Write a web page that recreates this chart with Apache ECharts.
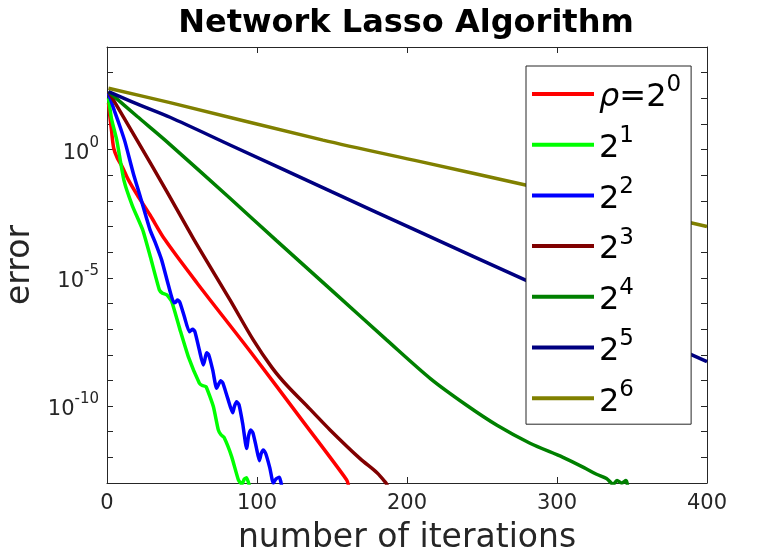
<!DOCTYPE html>
<html lang="en">
<head>
    <meta charset="UTF-8">
    <title>Network Lasso Algorithm</title>
    <script src="https://cdn.jsdelivr.net/npm/echarts@6/dist/echarts.min.js"></script>
    <style>
        body { margin: 0; background: #fff; }
    </style>
</head>
<body>
    <div id="main" style="width: 781px;height:559px;"></div>

    <script type="text/javascript">
        // [iteration, log10(error)]
        const rho0 = [[1,1.82],[2,1.25],[3,0.75],[4.5,0.05],[7,-0.35],[10,-0.65],[14,-1.15],[20,-1.75],[28.7,-2.55],[38.7,-3.52],[60,-5.2],[96.4,-7.94],[130,-10.55],[159.8,-12.88],[161,-13.1]];
        const rho1 = [[1,2.0],[3,1.2],[6.5,0.37],[11.3,-1.2],[17,-2.2],[23.8,-3.13],[29,-4.2],[34.9,-5.47],[37,-5.6],[39.8,-5.66],[43.1,-5.92],[48.7,-7.03],[54.2,-8.07],[61.6,-9.11],[63.5,-9.2],[66,-9.24],[70.9,-10.02],[74.2,-10.93],[76,-11.12],[78,-11.22],[83.1,-11.97],[87.6,-12.88],[89.9,-13.05],[91.5,-12.85],[93.1,-12.8],[94.9,-13.1]];
        const rho2 = [[1,2.2],[5,1.5],[8.7,0.89],[12,0.3],[17.5,-0.92],[22,-1.8],[28.7,-3.13],[32,-3.6],[36.4,-4.3],[41,-5.3],[44.7,-5.97],[45.8,-5.95],[46.9,-5.86],[48.5,-5.95],[51.5,-6.5],[54.9,-7.1],[56,-7.05],[57.1,-7.01],[58.6,-7.1],[61.5,-7.8],[64.2,-8.4],[65.2,-8.2],[66.4,-7.92],[67.8,-8.0],[70.5,-8.6],[73.1,-9.31],[74.4,-9.15],[75.8,-9.01],[77.2,-9.1],[80.5,-9.7],[83.8,-10.26],[85,-10.0],[86.4,-9.83],[88,-9.95],[90.5,-10.7],[93.1,-11.65],[94.4,-11.15],[95.8,-10.93],[97.3,-11.05],[99.5,-11.6],[101.6,-12.13],[102.8,-11.85],[104.2,-11.71],[105.8,-11.85],[108.5,-12.4],[110.9,-13.0],[112.5,-12.85],[114.9,-12.78],[116.4,-13.1]];
        const rho3 = [[1,2.26],[20,0.37],[40,-1.65],[57.5,-3.46],[82,-5.86],[97.5,-7.42],[110,-8.5],[120,-9.2],[135,-10.1],[148.7,-10.93],[168.7,-12.05],[180,-12.6],[185.3,-12.95],[187,-13.1]];
        const rho4 = [[1,2.26],[20,1.3],[38.7,0.37],[82,-1.9],[113,-3.55],[150,-5.5],[186.4,-7.42],[216,-8.95],[240,-9.98],[260,-10.75],[282,-11.45],[304,-12.0],[318,-12.4],[326,-12.65],[333,-12.82],[337.5,-13.05],[340,-12.9],[343,-13.0],[346,-12.9],[347,-13.1]];
        const rho5 = [[1,2.26],[20,1.78],[42,1.26],[82,0.18],[150,-1.65],[208.7,-3.22],[278.7,-5.08],[340,-6.7],[400,-8.27]];
        const rho6 = [[1,2.39],[42,1.83],[144,0.37],[209,-0.47],[279,-1.38],[400,-3.0]];

        const seriesData = [rho0, rho1, rho2, rho3, rho4, rho5, rho6];
        const seriesNames = ['r0', 'r1', 'r2', 'r3', 'r4', 'r5', 'r6'];
        const exponents = ['0', '1', '2', '3', '4', '5', '6'];
        const colors = ['#ff0000', '#00ff00', '#0000ff', '#800000', '#008000', '#000080', '#808000'];
        const smoothing = [0.3, 0.15, 0.2, 0.3, 0.3, 0.3, 0.3];
        const xTicks = [0, 100, 200, 300, 400];
        const yLabelExps = [-10, -5, 0];

        const font = 'DejaVu Sans';
        const ink = '#262626';

        var chart = echarts.init(document.getElementById('main'));

        // legend text: 2 with the exponent as superscript
        function legendText(name) {
            const i = seriesNames.indexOf(name);
            if (i === 0) return '{r|ρ}{b|=2}{s|' + exponents[i] + '}';
            return '{b|2}{s|' + exponents[i] + '}';
        }

        // plain box axis (top / right) with inward ticks only
        const boxLine = { onZero: false, lineStyle: { color: ink, width: 1 } };
        const boxTick = { show: true, inside: true, length: 6, lineStyle: { color: ink } };

        var option = {
            animation: false,
            title: {
                text: 'Network Lasso Algorithm',
                left: 401,
                top: 3,
                textAlign: 'center',
                textStyle: { fontFamily: font, fontSize: 32, fontWeight: 'bold', color: '#000' }
            },
            grid: { left: 107, top: 47, width: 600, height: 436, containLabel: false, outerBoundsMode: 'none' },
            legend: {
                orient: 'vertical',
                left: 526,
                top: 66,
                padding: [8, 10, 6, 6],
                itemGap: 10.7,
                itemWidth: 62,
                itemHeight: 4,
                icon: 'rect',
                backgroundColor: '#fff',
                borderColor: ink,
                borderWidth: 1,
                borderRadius: 0,
                data: seriesNames,
                formatter: legendText,
                textStyle: {
                    rich: {
                        b: { fontFamily: font, fontSize: 32, color: '#000', lineHeight: 40, verticalAlign: 'bottom' },
                        r: { fontFamily: font, fontSize: 32, fontStyle: 'italic', color: '#000', lineHeight: 40, verticalAlign: 'bottom' },
                        s: { fontFamily: font, fontSize: 23, color: '#000', lineHeight: 22, verticalAlign: 'top' }
                    }
                }
            },
            xAxis: [{
                type: 'value',
                position: 'bottom',
                min: 0,
                max: 400,
                interval: 100,
                name: 'number of iterations',
                nameLocation: 'middle',
                nameGap: 39,
                nameTextStyle: { fontFamily: font, fontSize: 33, color: ink },
                axisLine: boxLine,
                axisTick: boxTick,
                axisLabel: { fontFamily: font, fontSize: 21, color: ink, margin: 10,
                    customValues: xTicks },
                splitLine: { show: false }
            }, {
                type: 'value',
                position: 'top',
                min: 0,
                max: 400,
                interval: 100,
                axisLine: boxLine,
                axisTick: boxTick,
                axisLabel: { show: false },
                splitLine: { show: false }
            }],
            yAxis: [{
                type: 'value',
                position: 'left',
                min: -13,
                max: 4,
                interval: 1,
                name: 'error',
                nameLocation: 'middle',
                nameGap: 66,
                nameTextStyle: { fontFamily: font, fontSize: 33, color: ink },
                axisLine: Object.assign({ show: true }, boxLine),
                axisTick: boxTick,
                axisLabel: {
                    customValues: yLabelExps,
                    margin: 8,
                    formatter: function (v) { return '{b|10}{s|' + v + '}'; },
                    rich: {
                        b: { fontFamily: font, fontSize: 21, color: ink, lineHeight: 28, verticalAlign: 'bottom' },
                        s: { fontFamily: font, fontSize: 15, color: ink, lineHeight: 16, verticalAlign: 'top' }
                    }
                },
                splitLine: { show: false }
            }, {
                type: 'value',
                position: 'right',
                min: -13,
                max: 4,
                interval: 1,
                axisLine: Object.assign({ show: true }, boxLine),
                axisTick: boxTick,
                axisLabel: { show: false },
                splitLine: { show: false }
            }],
            series: seriesNames.map(function (name, i) {
                return {
                    name: name,
                    type: 'line',
                    data: seriesData[i],
                    showSymbol: false,
                    symbol: 'none',
                    smooth: smoothing[i],
                    clip: true,
                    color: colors[i],
                    lineStyle: { width: 3.5, color: colors[i] }
                };
            })
        };

        chart.setOption(option);
    </script>
</body>
</html>
